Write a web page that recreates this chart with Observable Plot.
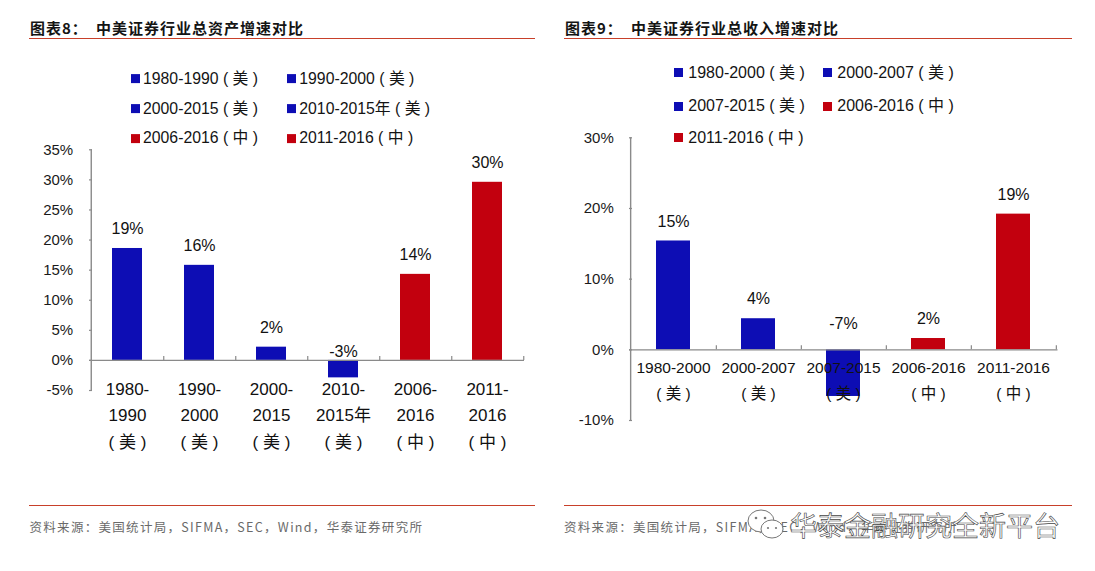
<!DOCTYPE html>
<html><head><meta charset="utf-8">
<script src="https://cdn.jsdelivr.net/npm/d3@7"></script>
<script src="https://cdn.jsdelivr.net/npm/@observablehq/plot@0.6"></script>
<style>
body{margin:0;background:#fff;}
#root{position:relative;width:1095px;height:571px;overflow:hidden;font-family:"Liberation Sans","Noto Sans CJK SC",sans-serif;background:#fff;}
.abs{position:absolute;white-space:pre;line-height:1;}
.title{font-family:"Noto Sans CJK SC",sans-serif;font-weight:700;font-size:15px;letter-spacing:1px;color:#141414;transform:translateY(-50%);}
.rule{position:absolute;height:1.4px;background:#c8402a;}
.foot{font-family:"Noto Sans CJK SC","Liberation Sans",sans-serif;font-size:12.5px;color:#6a6a6a;letter-spacing:1.3px;transform:translateY(-50%);}
.leg{display:flex;align-items:center;transform:translateY(-50%);color:#141414;z-index:2;}
.sw{display:inline-block;width:9px;height:9px;}
.plot{position:absolute;z-index:1;}
.wm{font-family:"Noto Sans CJK SC",sans-serif;font-size:27px;color:#fff;-webkit-text-stroke:0.6px #444;transform:translateY(-50%);z-index:3;}
</style></head><body><div id="root"></div>
<script>
// ---------- data ----------
const assetCats = ["1980-1990（美）","1990-2000（美）","2000-2015（美）","2010-2015年（美）","2006-2016（中）","2011-2016（中）"];
const assetTickLabels = ["1980-\n1990\n（美）","1990-\n2000\n（美）","2000-\n2015\n（美）","2010-\n2015年\n（美）","2006-\n2016\n（中）","2011-\n2016\n（中）"];
const assetValues = [18.6, 15.8, 2.2, -2.9, 14.3, 29.6];
const assetCountry = ["美","美","美","美","中","中"];
const assetYTicks = [-5, 0, 5, 10, 15, 20, 25, 30, 35];

const revenueCats = ["1980-2000（美）","2000-2007（美）","2007-2015（美）","2006-2016（中）","2011-2016（中）"];
const revenueTickLabels = ["1980-2000\n（美）","2000-2007\n（美）","2007-2015\n（美）","2006-2016\n（中）","2011-2016\n（中）"];
const revenueValues = [15.4, 4.4, -6.6, 1.6, 19.2];
const revenueCountry = ["美","美","美","中","中"];
const revenueYTicks = [-10, 0, 10, 20, 30];

const countries = ["美","中"];
const titles = ["图表8：","中美证券行业总资产增速对比","图表9：","中美证券行业总收入增速对比"];
const sourceText = "资料来源：美国统计局，SIFMA，SEC，Wind，华泰证券研究所";
const watermark = "华泰金融研究全新平台";

// ---------- style ----------
const countryColors = ["#0d0db4", "#c2000e"];
const FONT = '"Liberation Sans","Noto Sans CJK SC",sans-serif';
const AXIS = "#8a8a8a";
const root = document.getElementById("root");
// display form of full-width parentheses (spaced, as in the original rendering)
const spaced = s => s.replace(/（/g, "( ").replace(/）/g, " )");
const spacedLegend = s => s.replace(/（/g, " ( ").replace(/）/g, " )");

function el(cls, html, left, top, extra) {
  const d = document.createElement("div");
  d.className = "abs " + cls;
  d.innerHTML = html;
  d.style.left = left + "px";
  d.style.top = top + "px";
  if (extra) Object.assign(d.style, extra);
  root.appendChild(d);
  return d;
}

function barChart(c) {
  const data = c.cats.map((cat, i) => ({cat, tick: spaced(c.ticks[i]), v: c.values[i], country: c.country[i]}));
  const step = (c.width - c.ml - c.mr) / data.length;
  const pxPer = (c.height - c.mt - c.mb) / (c.yd[1] - c.yd[0]);
  const tickLen = 4 / pxPer;
  const svg = Plot.plot({
    width: c.width, height: c.height,
    marginTop: c.mt, marginBottom: c.mb, marginLeft: c.ml, marginRight: c.mr,
    style: {background: "transparent", fontFamily: FONT, overflow: "visible"},
    x: {domain: c.cats, paddingInner: c.pad, paddingOuter: c.pad / 2, axis: null},
    y: {domain: c.yd, axis: null},
    color: {domain: countries, range: countryColors},
    marks: [
      Plot.barY(data, {x: "cat", y: "v", fill: "country"}),
      Plot.ruleY([0], {stroke: AXIS, strokeWidth: 1.4}),
      Plot.ruleX([data[0]], {x: "cat", y1: () => c.yd[0], y2: () => c.yd[1], dx: -step / 2, stroke: AXIS, strokeWidth: 1.4}),
      Plot.ruleX(data, {x: "cat", y1: () => 0, y2: () => tickLen, dx: step / 2, stroke: AXIS, strokeWidth: 1.2}),
      Plot.axisY({ticks: c.yTicks, anchor: "left", label: null, tickSize: 3, dx: 3, fill: "none", stroke: AXIS, strokeWidth: 1.2}),
      Plot.axisY({ticks: c.yTicks, anchor: "left", label: null, tickSize: 0, tickPadding: c.yPad, tickFormat: d => d + "%", fontSize: 15, fill: "#1a1a1a"}),
      Plot.text(data.filter(d => d.v >= 0), {x: "cat", y: "v", text: d => Math.round(d.v) + "%", dy: -19.5, fontSize: 16, fill: "#111"}),
      Plot.text(data.filter(d => d.v < 0), {x: "cat", y: () => 0, text: d => Math.round(d.v) + "%", dy: c.negDy, fontSize: 16, fill: "#111"}),
      Plot.text(data, {x: "cat", text: "tick", frameAnchor: "bottom", lineAnchor: "top", dy: c.tickDy, fontSize: c.tickFont, lineHeight: c.lineH, fill: "#111"})
    ]
  });
  svg.classList.add("plot");
  svg.style.left = c.left + "px";
  svg.style.top = c.top + "px";
  root.appendChild(svg);
}

// ---------- left panel ----------
el("title", titles[0], 30, 27);
el("title", titles[1], 96, 27);
el("rule", "", 29, 37.6, {width: "506px"});
barChart({
  cats: assetCats, ticks: assetTickLabels, values: assetValues, country: assetCountry, yTicks: assetYTicks,
  yd: [-5, 35], left: 0, top: 130, width: 545, height: 330, mt: 19.3, mb: 70, ml: 89, mr: 21,
  pad: 0.586, yPad: 16.3, negDy: -8.3, tickDy: -14.7, tickFont: 17, lineH: 1.56
});
const legL = {cols: [131, 287.3], rows: [79, 109, 138.3]};
assetCats.forEach((name, i) => {
  const color = countryColors[countries.indexOf(assetCountry[i])];
  el("leg", `<span class="sw" style="background:${color}"></span><span style="margin-left:3px;font-size:15.8px">${spacedLegend(name)}</span>`,
     legL.cols[i % 2], legL.rows[Math.floor(i / 2)]);
});
el("rule", "", 29, 505, {width: "506px"});
el("foot", sourceText, 29.5, 527);

// ---------- right panel ----------
el("title", titles[2], 565, 27);
el("title", titles[3], 631, 27);
el("rule", "", 563.5, 37.6, {width: "508px"});
barChart({
  cats: revenueCats, ticks: revenueTickLabels, values: revenueValues, country: revenueCountry, yTicks: revenueYTicks,
  yd: [-10, 30], left: 545, top: 120, width: 550, height: 330, mt: 17.3, mb: 30, ml: 84, mr: 37.5,
  pad: 0.595, yPad: 15.7, negDy: -26, tickDy: -66, tickFont: 15.5, lineH: 1.68
});
const legR = {cols: [674.3, 823.3], rows: [72.7, 106, 137.7]};
revenueCats.forEach((name, i) => {
  const color = countryColors[countries.indexOf(revenueCountry[i])];
  el("leg", `<span class="sw" style="background:${color}"></span><span style="margin-left:5px;font-size:16px">${spacedLegend(name)}</span>`,
     legR.cols[i % 2], legR.rows[Math.floor(i / 2)]);
});
el("rule", "", 563.5, 505, {width: "508px"});
el("foot", sourceText, 564, 527);
// watermark
el("wm", `<svg width="40" height="38" style="vertical-align:middle" viewBox="0 0 40 38"><ellipse cx="15" cy="15" rx="13" ry="11" fill="#fff" stroke="#777" stroke-width="1"/><ellipse cx="26" cy="23" rx="11" ry="9" fill="#fff" stroke="#777" stroke-width="1"/><circle cx="10" cy="12" r="1.3" fill="#777"/><circle cx="19" cy="12" r="1.3" fill="#777"/><circle cx="22" cy="22" r="1.1" fill="#777"/><circle cx="30" cy="22" r="1.1" fill="#777"/></svg>`, 746, 525);
el("wm", watermark, 790, 524);
</script></body></html>
